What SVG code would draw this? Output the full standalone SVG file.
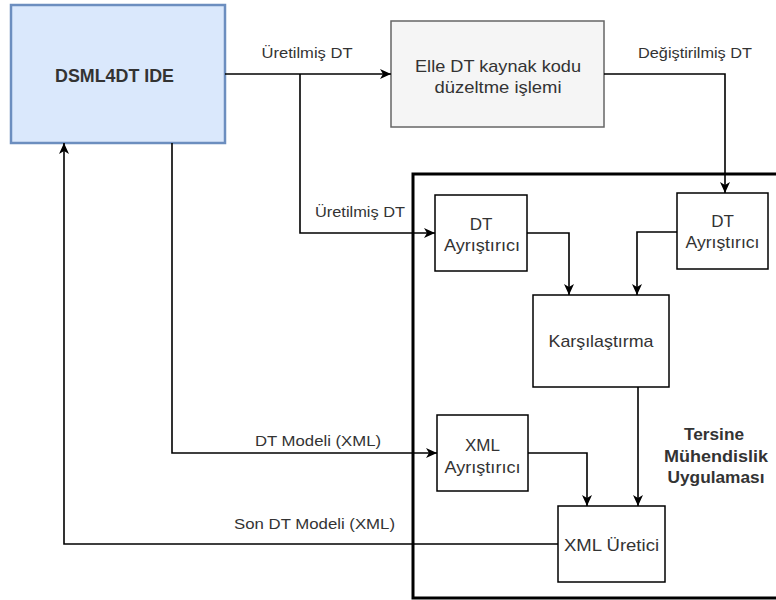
<svg xmlns="http://www.w3.org/2000/svg" width="776" height="600" viewBox="0 0 776 600">
<defs>
<marker id="arr" markerUnits="userSpaceOnUse" markerWidth="12" markerHeight="10" refX="11" refY="5" orient="auto">
<path d="M0,0 L11,5 L0,10 L3,5 Z" fill="#000"/>
</marker>
<style>
.box{fill:#fff;stroke:#000;stroke-width:1.5}
.t{font-family:"Liberation Sans",Arial,sans-serif;font-size:17px;fill:#333;text-anchor:middle}
.lbl{font-family:"Liberation Sans",Arial,sans-serif;font-size:14px;fill:#333;text-anchor:middle}
.b{font-weight:bold}
.c{fill:none;stroke:#000;stroke-width:1.6;marker-end:url(#arr)}
</style>
</defs>
<rect width="776" height="600" fill="#fff"/>
<g id="container">
<rect x="413" y="174" width="380" height="424" fill="none" stroke="#000" stroke-width="3"/>
<text class="t b" x="714" y="440" textLength="60" lengthAdjust="spacingAndGlyphs">Tersine</text>
<text class="t b" x="716" y="462" textLength="104" lengthAdjust="spacingAndGlyphs">Mühendislik</text>
<text class="t b" x="716" y="483" textLength="97" lengthAdjust="spacingAndGlyphs">Uygulaması</text>
</g>
<g id="ide">
<rect x="11" y="5" width="214" height="138" fill="#dae8fc" stroke="#6c8ebf" stroke-width="2.5"/>
<text class="t b" x="114.5" y="81.5" style="font-size:18px" textLength="119" lengthAdjust="spacingAndGlyphs">DSML4DT IDE</text>
</g>
<g id="elle">
<rect x="391" y="21" width="213" height="106" fill="#f5f5f5" stroke="#666" stroke-width="1.5"/>
<text class="t" x="498" y="71.5" textLength="166" lengthAdjust="spacingAndGlyphs">Elle DT kaynak kodu</text>
<text class="t" x="498" y="93" textLength="127" lengthAdjust="spacingAndGlyphs">düzeltme işlemi</text>
</g>
<g id="dt1">
<rect class="box" x="435" y="195" width="92" height="76"/>
<text class="t" x="481" y="230">DT</text>
<text class="t" x="482" y="251" textLength="76" lengthAdjust="spacingAndGlyphs">Ayrıştırıcı</text>
</g>
<g id="dt2">
<rect class="box" x="677" y="193" width="91" height="76"/>
<text class="t" x="722.5" y="227">DT</text>
<text class="t" x="722.5" y="248" textLength="74" lengthAdjust="spacingAndGlyphs">Ayrıştırıcı</text>
</g>
<g id="karsilastirma">
<rect class="box" x="533" y="295" width="136" height="92"/>
<text class="t" x="601" y="347" textLength="105" lengthAdjust="spacingAndGlyphs">Karşılaştırma</text>
</g>
<g id="xmla">
<rect class="box" x="437" y="415" width="91" height="76"/>
<text class="t" x="482.5" y="451">XML</text>
<text class="t" x="482.5" y="473" textLength="76" lengthAdjust="spacingAndGlyphs">Ayrıştırıcı</text>
</g>
<g id="xmlu">
<rect class="box" x="558" y="506" width="107" height="76"/>
<text class="t" x="611.5" y="551" textLength="95" lengthAdjust="spacingAndGlyphs">XML Üretici</text>
</g>
<g id="connectors">
<path class="c" d="M225,74 H391"/>
<path class="c" d="M300,74 V233 H435"/>
<path class="c" d="M604,74 H725 V193"/>
<path class="c" d="M527,233 H569 V295"/>
<path class="c" d="M677,232 H637 V295"/>
<path class="c" d="M172,143 V453 H437"/>
<path class="c" d="M528,453 H587 V506"/>
<path class="c" d="M638,387 V506"/>
<path class="c" d="M558,544 H64 V143"/>
<text class="lbl" x="307" y="58" textLength="91" lengthAdjust="spacingAndGlyphs">Üretilmiş DT</text>
<text class="lbl" x="695" y="58" textLength="114" lengthAdjust="spacingAndGlyphs">Değiştirilmiş DT</text>
<text class="lbl" x="360" y="217" textLength="90" lengthAdjust="spacingAndGlyphs">Üretilmiş DT</text>
<text class="lbl" x="318" y="446" textLength="126" lengthAdjust="spacingAndGlyphs">DT Modeli (XML)</text>
<text class="lbl" x="314.5" y="529" textLength="161" lengthAdjust="spacingAndGlyphs">Son DT Modeli (XML)</text>
</g>
</svg>
